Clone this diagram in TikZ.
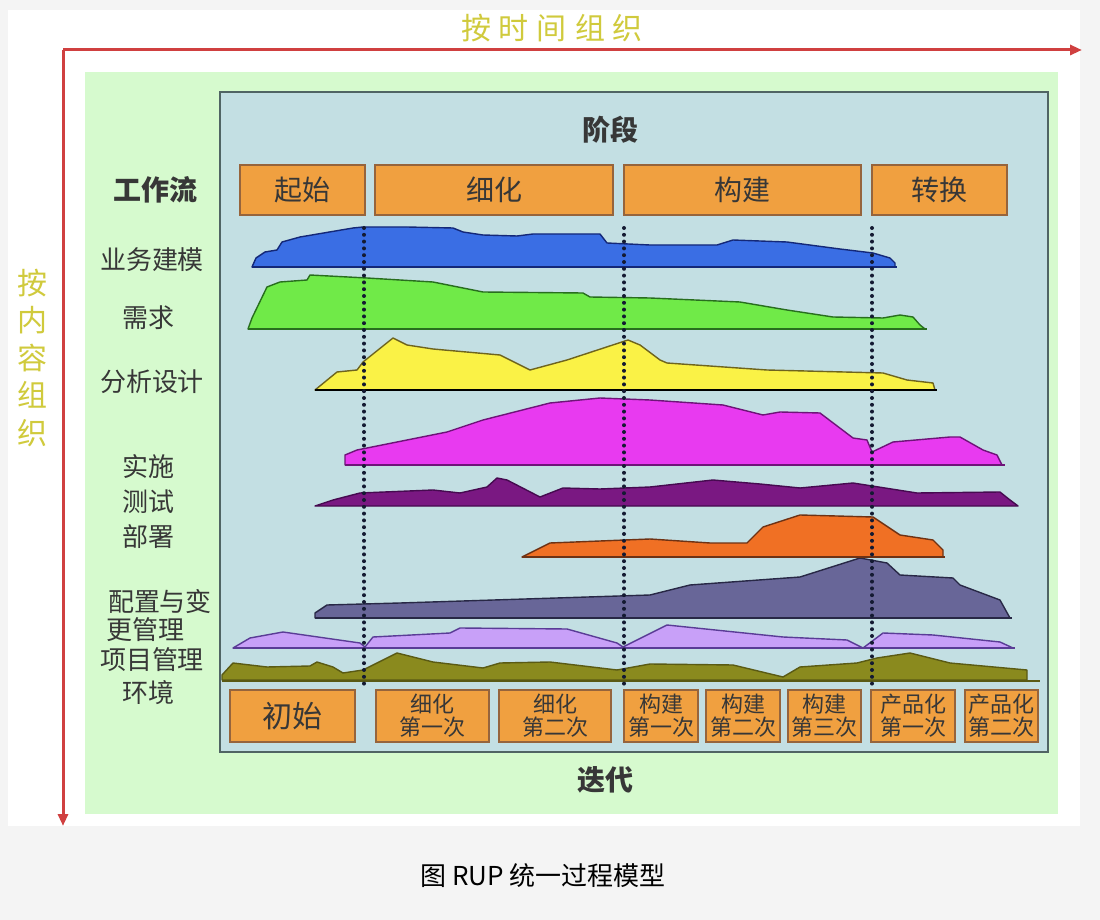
\documentclass[tikz,border=0pt]{standalone}
\usepackage{fontspec}
\setmainfont{Noto Sans CJK SC}
\usetikzlibrary{arrows.meta,positioning}
\definecolor{pagegray}{RGB}{244,244,244}
\definecolor{panelgreen}{RGB}{214,250,206}
\definecolor{panelblue}{RGB}{195,223,227}
\definecolor{paneledge}{RGB}{80,100,100}
\definecolor{axisred}{RGB}{208,64,64}
\definecolor{titleyellow}{RGB}{208,202,60}
\definecolor{labelgray}{RGB}{55,55,55}
\definecolor{phaseorange}{RGB}{240,160,64}
\definecolor{phaseedge}{RGB}{150,100,60}
\definecolor{dotblue}{RGB}{20,26,50}
\definecolor{bmfill}{RGB}{58,110,228}
\definecolor{bmedge}{RGB}{20,40,120}
\definecolor{reqfill}{RGB}{112,234,72}
\definecolor{reqedge}{RGB}{40,110,30}
\definecolor{adfill}{RGB}{250,242,70}
\definecolor{adedge}{RGB}{110,100,30}
\definecolor{impfill}{RGB}{232,58,240}
\definecolor{impedge}{RGB}{110,20,120}
\definecolor{testfill}{RGB}{122,24,130}
\definecolor{testedge}{RGB}{70,10,80}
\definecolor{depfill}{RGB}{240,112,36}
\definecolor{depedge}{RGB}{110,50,20}
\definecolor{cmfill}{RGB}{104,102,152}
\definecolor{cmedge}{RGB}{40,40,70}
\definecolor{pmfill}{RGB}{200,160,248}
\definecolor{pmedge}{RGB}{90,60,150}
\definecolor{envfill}{RGB}{138,138,30}
\definecolor{envedge}{RGB}{90,90,20}

\begin{document}
\begin{tikzpicture}[x=0.5pt, y=-0.5pt,
  phasebox/.style={draw=phaseedge, fill=phaseorange, line width=0.7pt, minimum height=25pt, inner sep=0pt, font=\fontsize{14}{14}\selectfont, text=labelgray},
  iterbox/.style={draw=phaseedge, fill=phaseorange, line width=0.7pt, minimum height=26pt, inner sep=0pt, align=center, font=\fontsize{11}{11.5}\selectfont, text=labelgray},
  wflabel/.style={font=\fontsize{13}{15}\selectfont, text=labelgray, inner sep=0pt},
  headlabel/.style={font=\fontsize{14}{14}\selectfont\bfseries, text=labelgray, inner sep=0pt},
  axislabel/.style={font=\fontsize{15}{18.75}\selectfont, text=titleyellow, inner sep=0pt, align=center},
  axisarrow/.style={draw=axisred, line width=1.5pt, -{Triangle[length=6pt, width=5pt]}},
  hump/.style={line width=0.7pt, line join=round},
  baseline/.style={line width=1.1pt},
  phaseline/.style={draw=dotblue, line width=2pt, line cap=round, dash pattern=on 0pt off 3.4pt}
]
  % page and panels
  \useasboundingbox (0,0) rectangle (1100,920);
  \fill[pagegray] (0,0) rectangle (1100,920);
  \fill[white] (8,10) rectangle (1080,826);
  \fill[panelgreen] (85,72) rectangle (1058,814);
  \draw[paneledge, fill=panelblue, line width=0.8pt] (220,92) rectangle (1048,752);

  % axes
  \coordinate (origin) at (63,50);
  \coordinate (timeend) at (1082,50);
  \coordinate (contentend) at (63,826);
  \draw[axisarrow] (origin) -- (timeend);
  \draw[axisarrow] (origin) -- (contentend);
  \node[axislabel] (bytime) at (552,28) {按\hspace{4pt}时\hspace{4pt}间\hspace{4pt}组\hspace{4pt}织};
  \node[axislabel] (bycontent) at (33,358) {按\\内\\容\\组\\织};

  % phases
  \node[headlabel] (phases) at (610,130) {阶段};
  \node[phasebox, minimum width=62.5pt] (inception) at (302.5,190) {起始};
  \node[phasebox, minimum width=119pt] (elaboration) at (494,190) {细化};
  \node[phasebox, minimum width=118.5pt] (construction) at (742.5,190) {构建};
  \node[phasebox, minimum width=67.5pt] (transition) at (939.5,190) {转换};

  % workflows
  \node[headlabel] (workflow) at (155,190) {工作流};
  \node[wflabel] (bizmodel) at (152,260) {业务建模};
  \node[wflabel] (requirements) at (148,318) {需求};
  \node[wflabel] (analysis) at (152,382) {分析设计};
  \node[wflabel] (implement) at (148,467) {实施};
  \node[wflabel] (testing) at (148,502) {测试};
  \node[wflabel] (deploy) at (148,537) {部署};
  \node[wflabel] (config) at (160,602) {配置与变};
  \node[wflabel] (changemgmt) at (145,630) {更管理};
  \node[wflabel] (projmgmt) at (152,660) {项目管理};
  \node[wflabel] (environment) at (148,693) {环境};

  % humps
  \draw[hump, draw=bmedge, fill=bmfill] plot coordinates {(252,267) (256,258) (265,252) (277,250) (282,242) (300,237) (353,228) (363,227) (407,227) (453,228) (463,232) (483,235) (517,236) (533,234) (600,234) (607,243) (650,245) (717,245) (733,240) (787,242) (840,249) (873,253) (890,258) (895,263) (895,267)} -- cycle;
  \draw[hump, draw=reqedge, fill=reqfill] plot coordinates {(248,329) (252,318) (267,287) (280,282) (307,280) (310,275) (367,278) (433,282) (483,292) (583,293) (590,297) (650,298) (740,302) (787,310) (833,317) (883,318) (900,315) (913,317) (920,325) (925,329)} -- cycle;
  \draw[hump, draw=adedge, fill=adfill] plot coordinates {(315,390) (337,372) (357,370) (363,362) (393,338) (407,345) (433,349) (500,355) (530,370) (567,360) (628,340) (640,345) (660,360) (667,363) (767,370) (883,373) (907,380) (933,383) (935,390)} -- cycle;
  \draw[hump, draw=impedge, fill=impfill] plot coordinates {(345,465) (345,455) (357,450) (417,438) (447,432) (483,420) (550,403) (600,398) (650,400) (723,405) (763,415) (780,412) (820,413) (853,438) (867,440) (872,452) (893,442) (950,437) (960,437) (983,450) (997,455) (1002,465)} -- cycle;
  \draw[hump, draw=testedge, fill=testfill] plot coordinates {(315,506) (333,500) (360,493) (433,490) (460,493) (487,487) (497,478) (507,480) (540,497) (563,488) (600,489) (650,487) (713,480) (760,484) (800,488) (853,483) (917,493) (1000,492) (1010,500) (1018,506)} -- cycle;
  \draw[hump, draw=depedge, fill=depfill] plot coordinates {(522,557) (550,543) (650,539) (710,543) (747,543) (763,527) (800,515) (873,517) (900,535) (933,540) (943,550) (943,557)} -- cycle;
  \draw[hump, draw=cmedge, fill=cmfill] plot coordinates {(315,618) (315,613) (327,605) (400,603) (650,595) (690,585) (800,577) (860,558) (887,563) (900,575) (953,578) (960,585) (1000,600) (1010,618)} -- cycle;
  \draw[hump, draw=pmedge, fill=pmfill] plot coordinates {(233,648) (250,638) (283,632) (360,643) (365,647) (373,637) (450,633) (460,628) (567,629) (617,643) (623,647) (667,625) (783,637) (847,640) (863,648) (883,633) (933,635) (1000,642) (1013,648)} -- cycle;
  \draw[hump, draw=envedge, fill=envfill] plot coordinates {(222,680) (222,675) (233,663) (267,667) (310,666) (317,662) (333,667) (343,673) (363,670) (397,653) (433,662) (483,668) (500,663) (550,662) (617,670) (650,664) (733,665) (783,677) (800,667) (857,663) (877,658) (910,653) (950,663) (1027,670) (1027,680)} -- cycle;

  % baselines
  \draw[baseline, bmedge] (252,267) -- (897,267);
  \draw[baseline, reqedge] (248,329) -- (927,329);
  \draw[baseline, black] (315,390) -- (937,390);
  \draw[baseline, impedge] (345,465) -- (1005,465);
  \draw[baseline, depedge] (522,557) -- (945,557);
  \draw[baseline, cmedge] (315,618) -- (1012,618);
  \draw[baseline, pmedge] (233,648) -- (1015,648);
  \draw[baseline, envedge] (222,681) -- (1040,681);

  % phase boundaries
  \draw[phaseline] (364,228) -- (364,688);
  \draw[phaseline] (624,228) -- (624,685);
  \draw[phaseline] (872,228) -- (872,685);

  % iterations
  \node[iterbox, minimum width=62.5pt, font=\fontsize{15}{15}\selectfont] (initial) at (292.5,716) {初始};
  \node[iterbox, minimum width=56.5pt] (elab1) at (432.5,716) {细化\\第一次};
  \node[iterbox, minimum width=56pt] (elab2) at (555,716) {细化\\第二次};
  \node[iterbox, minimum width=37pt] (cons1) at (661,716) {构建\\第一次};
  \node[iterbox, minimum width=37pt] (cons2) at (743,716) {构建\\第二次};
  \node[iterbox, minimum width=36.5pt] (cons3) at (824.5,716) {构建\\第三次};
  \node[iterbox, minimum width=42pt] (trans1) at (913,716) {产品化\\第一次};
  \node[iterbox, minimum width=36.5pt] (trans2) at (1001.5,716) {产品化\\第二次};
  \node[headlabel] (iterations) at (605,780) {迭代};

  % caption
  \node[font=\fontsize{13}{13}\selectfont, text=black, inner sep=0pt] (caption) at (543,876) {图 RUP 统一过程模型};
\end{tikzpicture}
\end{document}
